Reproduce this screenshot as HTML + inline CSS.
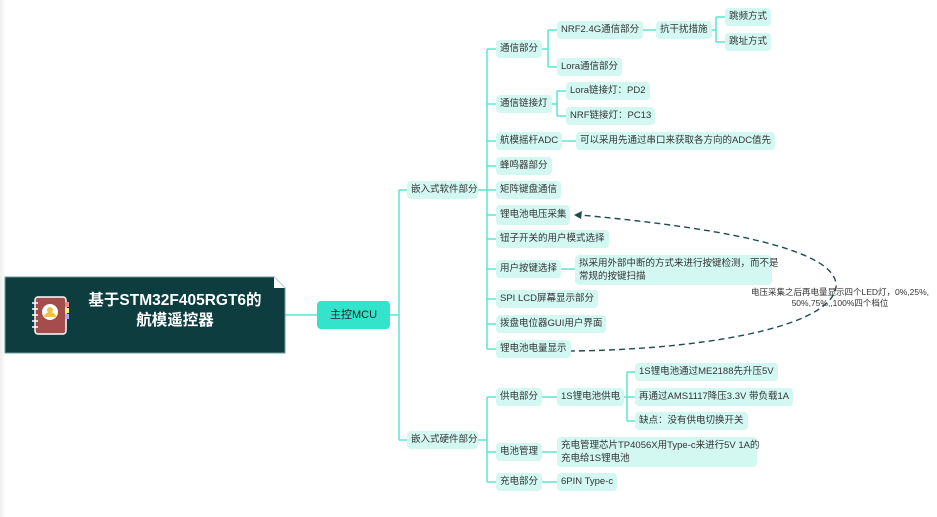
<!DOCTYPE html>
<html><head><meta charset="utf-8"><style>
body{margin:0;width:937px;height:517px;background:#fff;position:relative;overflow:hidden;font-family:"Liberation Sans","Noto Sans CJK SC",sans-serif;}
.n{position:absolute;background:#d3f8f2;border-radius:4px;font-size:9.5px;color:#333;line-height:18px;padding:0 4px;box-sizing:border-box;white-space:nowrap;}
.m{line-height:13px;padding-top:2px;}
svg{position:absolute;left:0;top:0;}
</style></head><body>
<div style="position:absolute;left:0;top:0;width:6px;height:517px;background:linear-gradient(90deg,#eee,#fff)"></div>
<svg width="937" height="517">
<g fill="none" stroke="#5ce5cf" stroke-width="1.5">
<path d="M285 315H317"/>
<path d="M390 315H399M399 190V440M399 190H407M399 440H407"/>
<path d="M478 190H487M487 49V349M487 49H496M487 104H496M487 141H496M487 166H496M487 190H496M487 215H496M487 239H496M487 269H496M487 299H496M487 324H496M487 349H496"/>
<path d="M478 440H487M487 397V482M487 397H496M487 452H496M487 482H496"/>
<path d="M539 49H548M548 30V67M548 30H557M548 67H557"/>
<path d="M637 30H656M708 30H716M716 17V42M716 17H725M716 42H725"/>
<path d="M548 104H557M557 91V116M557 91H566M557 116H566"/>
<path d="M558 141H576M557 269H575"/>
<path d="M539 397H557M618 397H627M627 372V421M627 372H635M627 397H635M627 421H635"/>
<path d="M539 452H557M539 482H557"/>
</g>
<path d="M569 351 C690 350 830 330 836 287 C840 245 690 225 580 215" fill="none" stroke="#1e4d4d" stroke-width="1.4" stroke-dasharray="6 4"/>
<path d="M574 215 L582 211 L581 219 Z" fill="#1e4d4d"/>
<path d="M5 277H274L285 288V353H5Z" fill="#0e3d40" stroke="#6b9a9a" stroke-width="1"/>
<path d="M274 277V288H285Z" fill="#fff"/>
<g transform="translate(35,297)">
<rect x="0" y="0" width="31" height="37" rx="3" fill="#a54d4d" stroke="#fff" stroke-width="1.5"/>
<rect x="30" y="5" width="4" height="5" fill="#e88"/><rect x="30" y="11" width="4" height="5" fill="#ee8"/><rect x="30" y="17" width="4" height="5" fill="#aae"/>
<circle cx="15" cy="15" r="8" fill="#fff"/><circle cx="15" cy="13" r="3" fill="#f5c04a"/><path d="M9 20a6 5 0 0 1 12 0" fill="#f5c04a"/>
<g stroke="#fff" stroke-width="1.5"><path d="M-3 6H3M-3 12H3M-3 18H3M-3 24H3M-3 30H3"/></g>
</g>
</svg>
<div style="position:absolute;left:70px;top:291px;width:210px;text-align:center;color:#fff;font-weight:bold;font-size:15.5px;line-height:20px;">基于STM32F405RGT6的<br>航模遥控器</div>
<div class="n" style="left:317px;top:301px;width:73px;height:28px;line-height:28px;background:#33e3cb;font-size:11px;text-align:center;color:#222">主控MCU</div>
<div class="n" style="left:407px;top:181px;width:71px">嵌入式软件部分</div>
<div class="n" style="left:407px;top:431px;width:71px">嵌入式硬件部分</div>
<div class="n" style="left:496px;top:40px">通信部分</div>
<div class="n" style="left:496px;top:95px">通信链接灯</div>
<div class="n" style="left:496px;top:132px">航模摇杆ADC</div>
<div class="n" style="left:496px;top:157px">蜂鸣器部分</div>
<div class="n" style="left:496px;top:181px">矩阵键盘通信</div>
<div class="n" style="left:496px;top:205px;height:20px;line-height:20px;width:74px">锂电池电压采集</div>
<div class="n" style="left:496px;top:230px">钮子开关的用户模式选择</div>
<div class="n" style="left:496px;top:260px">用户按键选择</div>
<div class="n" style="left:496px;top:290px">SPI LCD屏幕显示部分</div>
<div class="n" style="left:496px;top:315px">拨盘电位器GUI用户界面</div>
<div class="n" style="left:496px;top:340px">锂电池电量显示</div>
<div class="n" style="left:557px;top:21px">NRF2.4G通信部分</div>
<div class="n" style="left:557px;top:58px">Lora通信部分</div>
<div class="n" style="left:656px;top:21px">抗干扰措施</div>
<div class="n" style="left:725px;top:8px">跳频方式</div>
<div class="n" style="left:725px;top:33px">跳址方式</div>
<div class="n" style="left:566px;top:82px">Lora链接灯：PD2</div>
<div class="n" style="left:566px;top:107px">NRF链接灯：PC13</div>
<div class="n" style="left:576px;top:132px">可以采用先通过串口来获取各方向的ADC值先</div>
<div class="n m" style="left:575px;top:255px;width:197px;height:30px">拟采用外部中断的方式来进行按键检测，而不是<br>常规的按键扫描</div>
<div class="n" style="left:496px;top:388px">供电部分</div>
<div class="n" style="left:557px;top:388px">1S锂电池供电</div>
<div class="n" style="left:635px;top:363px">1S锂电池通过ME2188先升压5V</div>
<div class="n" style="left:635px;top:388px">再通过AMS1117降压3.3V 带负载1A</div>
<div class="n" style="left:635px;top:412px">缺点：没有供电切换开关</div>
<div class="n" style="left:496px;top:443px">电池管理</div>
<div class="n m" style="left:557px;top:437px;width:200px;height:30px">充电管理芯片TP4056X用Type-c来进行5V 1A的<br>充电给1S锂电池</div>
<div class="n" style="left:496px;top:473px">充电部分</div>
<div class="n" style="left:557px;top:473px">6PIN Type-c</div>
<div style="position:absolute;left:745px;top:287px;width:190px;text-align:center;font-size:8.5px;line-height:11px;color:#333">电压采集之后再电量显示四个LED灯，0%,25%,<br>50%,75%,,100%四个档位</div>
</body></html>
